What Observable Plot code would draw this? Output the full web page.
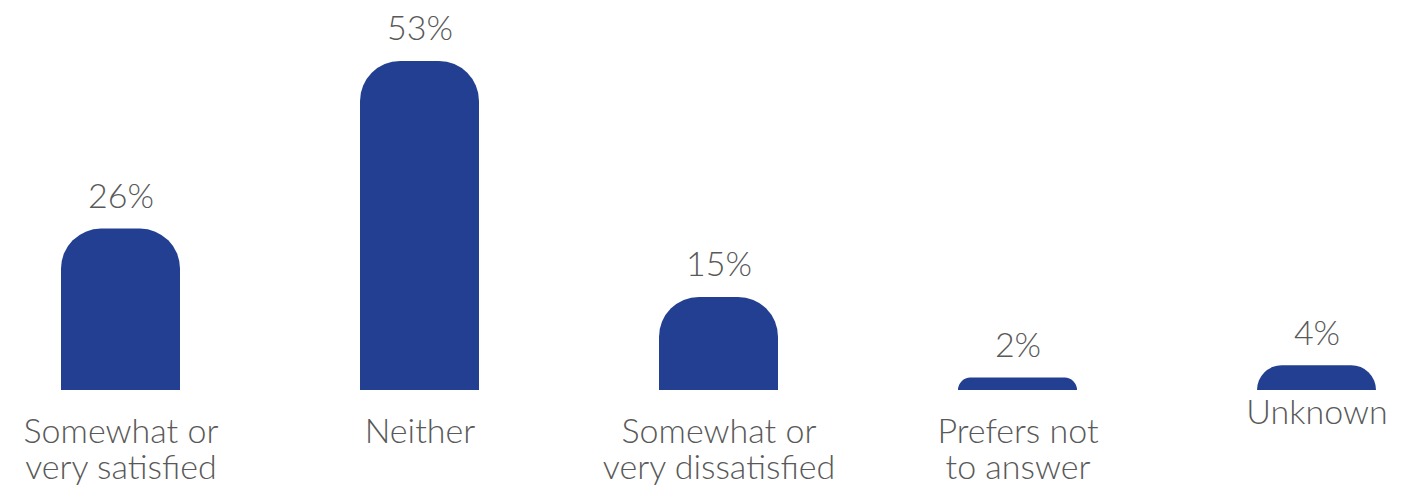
<!DOCTYPE html>
<html>
<head>
<meta charset="utf-8">
<script src="https://cdn.jsdelivr.net/npm/d3@7"></script>
<script src="https://cdn.jsdelivr.net/npm/@observablehq/plot@0.6"></script>
<style>
  html, body { margin: 0; padding: 0; background: #fff; }
  #chart svg { display: block; overflow: visible; }
</style>
</head>
<body>
<div id="chart"></div>
<script>
const categories = [
  "Somewhat or\nvery satisfied",
  "Neither",
  "Somewhat or\nvery dissatisfied",
  "Prefers not\nto answer",
  "Unknown"
];
const values = [26, 53, 15, 2, 4];
const valueLabels = ["26%", "53%", "15%", "2%", "4%"];

const data = categories.map((c, i) => ({category: c, value: values[i], label: valueLabels[i]}));
const raised = new Set(["Unknown"]);

const barColor = "#233F91";
const textColor = "#595959";
const font = "Lato, 'Open Sans', sans-serif";

const chart = Plot.plot({
  width: 1423,
  height: 490,
  marginLeft: 16,
  marginRight: 2,
  marginTop: 61,
  marginBottom: 100,
  style: {fontFamily: font, background: "#fff"},
  x: {domain: categories, paddingInner: 0.602, paddingOuter: 0.15, axis: null},
  y: {domain: [0, 53], axis: null},
  marks: [
    Plot.barY(data, {x: "category", y: "value", fill: barColor, ry1: 40}),
    Plot.text(data, {x: "category", y: "value", text: "label", dy: -32,
      fontSize: 34, fontWeight: 300, fill: textColor}),
    Plot.text(data.filter(d => !raised.has(d.category)), {x: "category", y: 0, text: "category",
      lineAnchor: "top", dy: 27, lineHeight: 1.05, fontSize: 34, fontWeight: 300, fill: textColor}),
    Plot.text(data.filter(d => raised.has(d.category)), {x: "category", y: 0, text: "category",
      lineAnchor: "top", dy: 8, lineHeight: 1.05, fontSize: 34, fontWeight: 300, fill: textColor})
  ]
});
document.getElementById("chart").appendChild(chart);
</script>
</body>
</html>
